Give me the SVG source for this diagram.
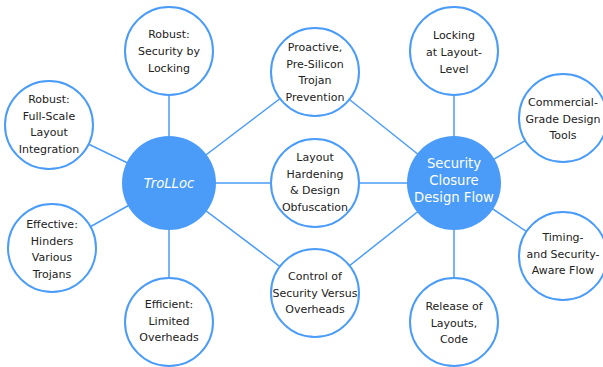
<svg xmlns="http://www.w3.org/2000/svg" width="603" height="367" viewBox="0 0 603 367">
<style>
.edge{stroke:#4a9cf8;stroke-width:1.5;fill:none}
.sat{fill:#ffffff;stroke:#4a9cf8;stroke-width:2}
.hub{fill:#4a9cf8;stroke:none}
.t{font-family:"DejaVu Sans",sans-serif;font-size:11px;fill:#222222;text-anchor:middle}
.h{font-family:"DejaVu Sans",sans-serif;font-size:13.2px;fill:#ffffff;text-anchor:middle}
</style>
<rect width="603" height="367" fill="#ffffff"/>
<g id="connectors">
<line class="edge" x1="169" y1="183" x2="169" y2="51"/>
<line class="edge" x1="169" y1="183" x2="49" y2="125"/>
<line class="edge" x1="169" y1="183" x2="52" y2="248"/>
<line class="edge" x1="169" y1="183" x2="169" y2="322"/>
<line class="edge" x1="169" y1="183" x2="315" y2="72"/>
<line class="edge" x1="169" y1="183" x2="315" y2="183"/>
<line class="edge" x1="169" y1="183" x2="315" y2="293"/>
<line class="edge" x1="454" y1="183" x2="315" y2="72"/>
<line class="edge" x1="454" y1="183" x2="315" y2="183"/>
<line class="edge" x1="454" y1="183" x2="315" y2="293"/>
<line class="edge" x1="454" y1="183" x2="454" y2="51"/>
<line class="edge" x1="454" y1="183" x2="563" y2="118"/>
<line class="edge" x1="454" y1="183" x2="563" y2="256"/>
<line class="edge" x1="454" y1="183" x2="454" y2="322"/>
</g>
<g id="n-trolloc"><circle class="hub" cx="169" cy="183" r="47"/><text class="h" x="169" y="188" font-style="italic">TroLLoc</text></g>
<g id="n-scdf"><circle class="hub" cx="454" cy="183" r="47"/><text class="h" x="454" y="168">Security</text><text class="h" x="454" y="185">Closure</text><text class="h" x="454" y="202">Design Flow</text></g>
<g id="n-locking"><circle class="sat" cx="169" cy="51" r="44"/><text class="t" x="169" y="38">Robust:</text><text class="t" x="169" y="55">Security by</text><text class="t" x="169" y="72">Locking</text></g>
<g id="n-fullscale"><circle class="sat" cx="49" cy="125" r="44"/><text class="t" x="49" y="103">Robust:</text><text class="t" x="49" y="119.5">Full-Scale</text><text class="t" x="49" y="136">Layout</text><text class="t" x="49" y="152.5">Integration</text></g>
<g id="n-effective"><circle class="sat" cx="52" cy="248" r="44"/><text class="t" x="52" y="228">Effective:</text><text class="t" x="52" y="244.5">Hinders</text><text class="t" x="52" y="261">Various</text><text class="t" x="52" y="277.5">Trojans</text></g>
<g id="n-efficient"><circle class="sat" cx="169" cy="322" r="44"/><text class="t" x="169" y="308">Efficient:</text><text class="t" x="169" y="324.5">Limited</text><text class="t" x="169" y="341">Overheads</text></g>
<g id="n-proactive"><circle class="sat" cx="315" cy="72" r="44"/><text class="t" x="315" y="51">Proactive,</text><text class="t" x="315" y="67.5">Pre-Silicon</text><text class="t" x="315" y="84">Trojan</text><text class="t" x="315" y="100.5">Prevention</text></g>
<g id="n-hardening"><circle class="sat" cx="315" cy="183" r="44"/><text class="t" x="315" y="161">Layout</text><text class="t" x="315" y="177.5">Hardening</text><text class="t" x="315" y="194">&amp; Design</text><text class="t" x="315" y="210.5">Obfuscation</text></g>
<g id="n-control"><circle class="sat" cx="315" cy="293" r="44"/><text class="t" x="315" y="280">Control of</text><text class="t" x="315" y="296.5">Security Versus</text><text class="t" x="315" y="313">Overheads</text></g>
<g id="n-layoutlevel"><circle class="sat" cx="454" cy="51" r="44"/><text class="t" x="454" y="39">Locking</text><text class="t" x="454" y="56">at Layout-</text><text class="t" x="454" y="73">Level</text></g>
<g id="n-commercial"><circle class="sat" cx="563" cy="118" r="44"/><text class="t" x="563" y="106">Commercial-</text><text class="t" x="563" y="122.5">Grade Design</text><text class="t" x="563" y="139">Tools</text></g>
<g id="n-timing"><circle class="sat" cx="563" cy="256" r="44"/><text class="t" x="563" y="241">Timing-</text><text class="t" x="563" y="257.5">and Security-</text><text class="t" x="563" y="274">Aware Flow</text></g>
<g id="n-release"><circle class="sat" cx="454" cy="322" r="44"/><text class="t" x="454" y="310">Release of</text><text class="t" x="454" y="327">Layouts,</text><text class="t" x="454" y="343">Code</text></g>
</svg>
